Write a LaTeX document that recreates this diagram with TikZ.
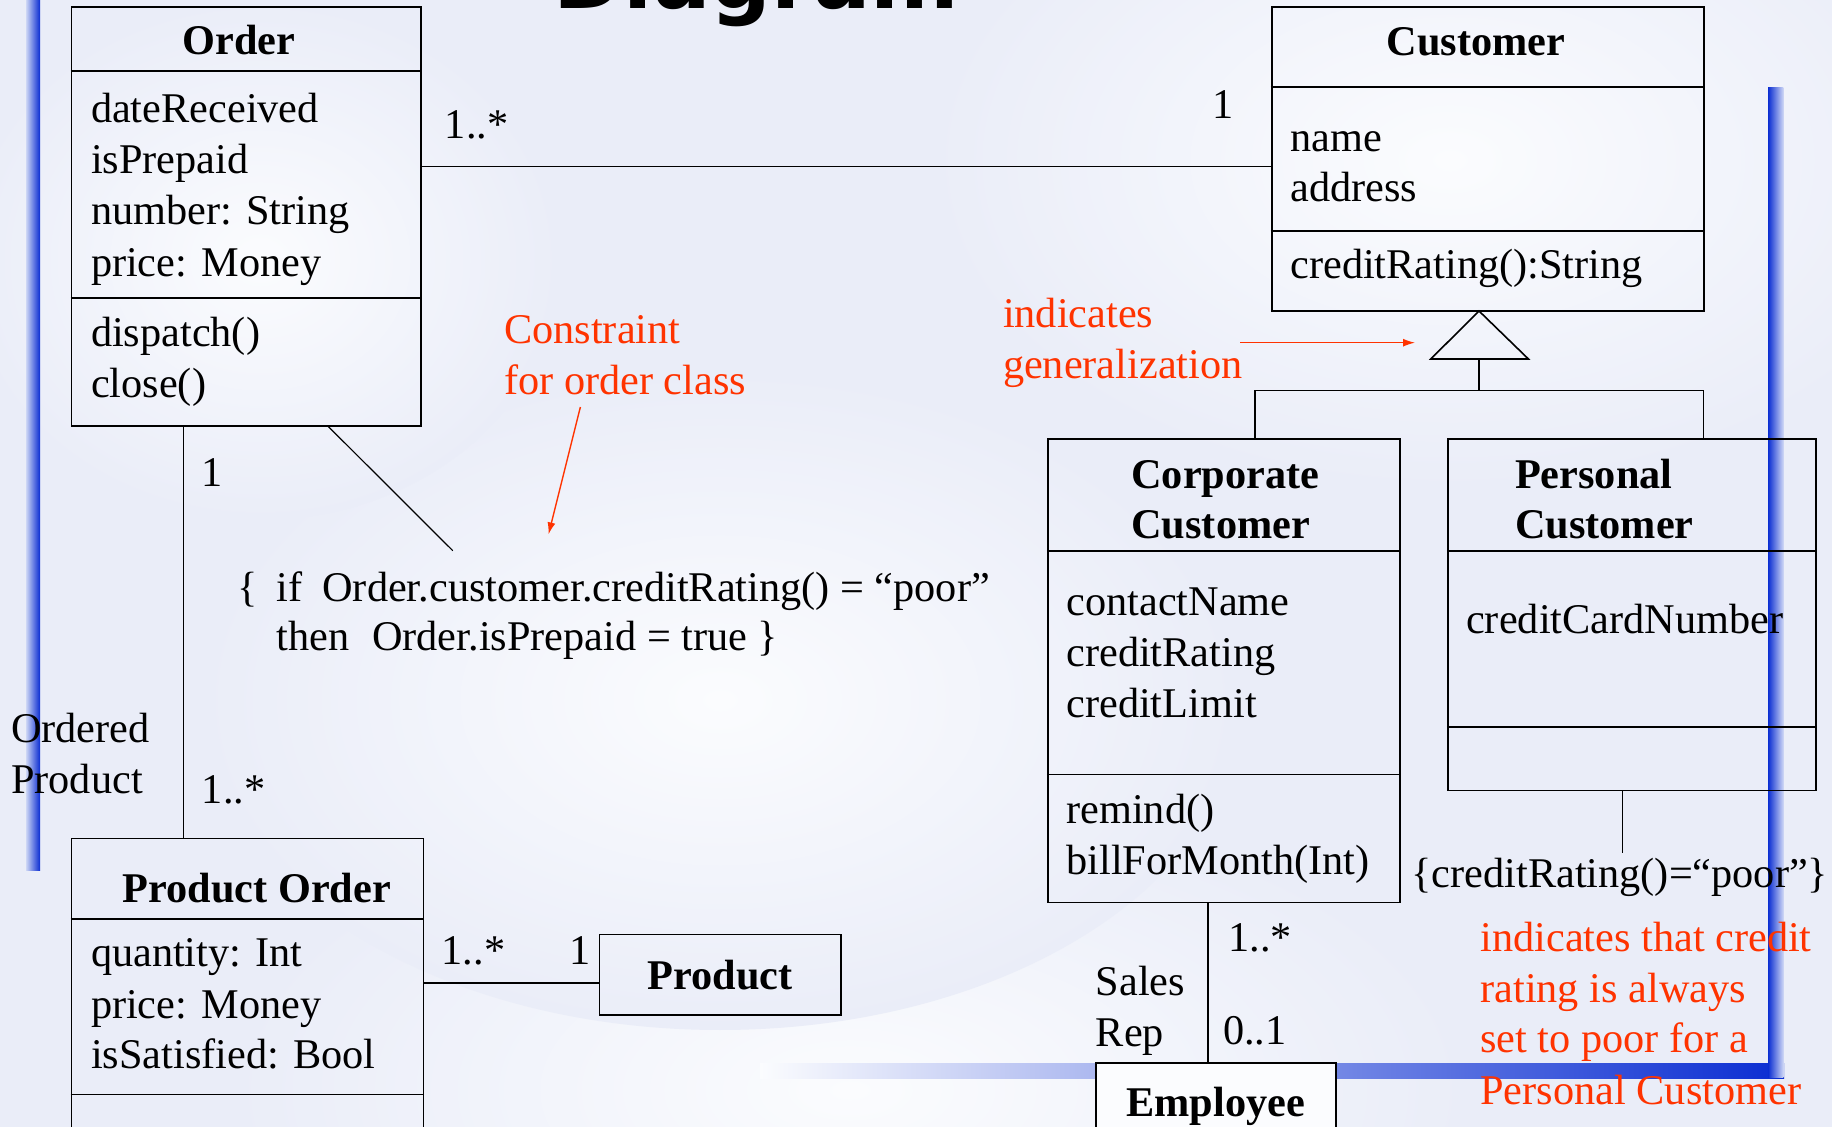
\documentclass[tikz,border=0pt]{standalone}
\usepackage{fontspec}
\setmainfont{Liberation Serif}
\newfontfamily\titlefont{DejaVu Sans}
\usetikzlibrary{fit,arrows.meta}

\definecolor{slidebg}{RGB}{234,237,248}
\definecolor{slidehi}{RGB}{251,252,254}
\definecolor{barblue}{RGB}{10,45,210}
\definecolor{barpale}{RGB}{205,214,245}
\definecolor{notered}{RGB}{255,51,0}

\begin{document}
\begin{tikzpicture}[x=0.5pt,y=-0.5pt,
  umlbox/.style={draw, line width=0.9pt, inner sep=0pt},
  txt/.style={anchor=base west, inner sep=0pt, font=\fontsize{21.15}{25}\selectfont},
  hd/.style={txt, font=\fontsize{21.15}{25}\selectfont\bfseries},
  note/.style={txt, text=notered},
  divider/.style={line width=0.9pt},
  assoc/.style={line width=0.8pt},
  thinline/.style={line width=0.6pt},
  notearrow/.style={draw=notered, line width=0.7pt, -{Latex[length=6pt,width=4pt]}},
]
\useasboundingbox (0,0) rectangle (1832,1127);
\clip (0,0) rectangle (1832,1127);

% slide background with soft light patches
\fill[slidebg] (0,0) rectangle (1832,1127);
\shade[inner color=slidehi, outer color=slidebg] (850,1090) ellipse [x radius=620, y radius=300];
\shade[inner color=slidehi, outer color=slidebg] (1450,160) ellipse [x radius=520, y radius=330];
\shade[inner color=slidehi, outer color=slidebg] (720,700) ellipse [x radius=520, y radius=330];
\shade[inner color=slidehi, outer color=slidebg] (260,260) ellipse [x radius=300, y radius=260];

% slide decoration bars (behind the diagram)
\shade[left color=slidehi, right color=barblue] (760,1063.3) rectangle (1784,1078.7);
\shade[left color=barblue, right color=barpale] (1768,87.3) rectangle (1783.3,1077);
\shade[left color=barpale, right color=barblue] (26,0) rectangle (40,870.7);

% slide title, cut by the top edge
\node[anchor=base west, inner sep=0pt, font=\titlefont\bfseries\fontsize{42.5}{46}\selectfont] (title) at (553,8.3) {Diagram};

% ---------- Order ----------
\node[umlbox, fit={(71.5,6.7) (421,425.7)}] (order) {};
\draw[divider] (order.west |- 0,70.7) -- (order.east |- 0,70.7);
\draw[divider] (order.west |- 0,297.7) -- (order.east |- 0,297.7);
\node[hd, anchor=base] (orderT) at (239,55) {Order};
\node[txt] (oa1) at (90.6,122.7) {dateReceived};
\node[txt] (oa2) at (90.6,173.3) {isPrepaid};
\node[txt] (oa3) at (90.6,225) {number: String};
\node[txt] (oa4) at (90.6,276.7) {price: Money};
\node[txt] (oo1) at (90.6,346.7) {dispatch()};
\node[txt] (oo2) at (90.6,397.3) {close()};

% ---------- Customer ----------
\node[umlbox, fit={(1271.6,6.7) (1704,311)}] (customer) {};
\draw[divider] (customer.west |- 0,86.7) -- (customer.east |- 0,86.7);
\draw[divider] (customer.west |- 0,230.7) -- (customer.east |- 0,230.7);
\node[hd, anchor=base] (customerT) at (1476,56) {Customer};
\node[txt] (ca1) at (1290,151.7) {name};
\node[txt] (ca2) at (1290,201.7) {address};
\node[txt] (co1) at (1290,278.3) {creditRating():String};

% Order -- Customer association
\coordinate (ocy) at (0,166.7);
\draw[assoc] (order.east |- ocy) -- (customer.west |- ocy);
\node[txt] (m1) at (444.5,138.3) {1..*};
\node[txt] (m2) at (1212,119) {1};

% ---------- Corporate Customer ----------
\node[umlbox, fit={(1047.7,439) (1400,902.6)}] (corp) {};
\draw[divider] (corp.west |- 0,551) -- (corp.east |- 0,551);
\draw[divider] (corp.west |- 0,774.6) -- (corp.east |- 0,774.6);
\node[hd] (corpT1) at (1131,489) {Corporate};
\node[hd] (corpT2) at (1131,539) {Customer};
\node[txt] (cc1) at (1066,616) {contactName};
\node[txt] (cc2) at (1066,667) {creditRating};
\node[txt] (cc3) at (1066,718) {creditLimit};
\node[txt] (cc4) at (1066,824) {remind()};
\node[txt] (cc5) at (1066,875) {billForMonth(Int)};

% ---------- Personal Customer ----------
\node[umlbox, fit={(1447.7,439) (1816,790.5)}] (personal) {};
\draw[divider] (personal.west |- 0,551) -- (personal.east |- 0,551);
\draw[divider] (personal.west |- 0,726.8) -- (personal.east |- 0,726.8);
\node[hd] (persT1) at (1514.6,489) {Personal};
\node[hd] (persT2) at (1514.6,539) {Customer};
\node[txt] (pc1) at (1465.8,634) {creditCardNumber};

% generalization
\coordinate (apex) at (1479,311);
\coordinate (tribase) at (1479,359);
\coordinate (gen) at (1479,390.7);
\coordinate (jl) at (1255,390.7);
\coordinate (jr) at (1703.5,390.7);
\draw[line width=0.8pt] (apex) -- (1430.8,359) -- (1528.4,359) -- cycle;
\draw[thinline] (tribase) -- (gen);
\draw[assoc] (jl |- corp.north) -- (jl) -- (jr) -- (jr |- personal.north);

\node[note] (gen1) at (1002.6,327.7) {indicates};
\node[note] (gen2) at (1002.6,378.3) {generalization};
\coordinate (genfrom) at (1240,342.7);
\coordinate (gento) at (1415,342.7);
\draw[notearrow] (genfrom) -- (gento);

% constraint on Personal Customer
\coordinate (crnote) at (1622.8,853.4);
\draw[thinline] (personal.south -| crnote) -- (crnote);
\node[txt] (crtext) at (1411,887.7) {\{creditRating()=“poor”\}};
\node[note] (pn1) at (1480,951.7) {indicates that credit};
\node[note] (pn2) at (1480,1002.7) {rating is always};
\node[note] (pn3) at (1480,1052.8) {set to poor for a};
\node[note] (pn4) at (1480,1104.7) {Personal Customer};

% ---------- Employee ----------
\node[umlbox, fill=slidehi, fit={(1096,1063) (1336,1140)}] (employee) {};
\node[hd] (empT) at (1126,1116.5) {Employee};
\coordinate (srx) at (1208,0);
\draw[thinline] (corp.south -| srx) -- (employee.north -| srx);
\node[txt] (sr1) at (1228,951.7) {1..*};
\node[txt] (sr2) at (1222.8,1044.4) {0..1};
\node[txt] (sr3) at (1095.5,995.7) {Sales};
\node[txt] (sr4) at (1095.5,1046.7) {Rep};

% ---------- Product Order ----------
\node[umlbox, fit={(71.4,838.6) (423.5,1140)}] (prodorder) {};
\draw[divider] (prodorder.west |- 0,918.8) -- (prodorder.east |- 0,918.8);
\draw[divider] (prodorder.west |- 0,1094.5) -- (prodorder.east |- 0,1094.5);
\node[hd] (poT) at (122.4,903) {Product Order};
\node[txt] (pa1) at (90.6,966.5) {quantity: Int};
\node[txt] (pa2) at (90.6,1018) {price: Money};
\node[txt] (pa3) at (90.6,1068.5) {isSatisfied: Bool};

% Order -- Product Order
\coordinate (opx) at (183.7,0);
\draw[thinline] (order.south -| opx) -- (prodorder.north -| opx);
\node[txt] (op1) at (201.5,487) {1};
\node[txt] (op2) at (201.5,803.3) {1..*};
\node[txt] (op3) at (10.8,743) {Ordered};
\node[txt] (op4) at (10.8,794) {Product};

% ---------- Product ----------
\node[umlbox, fit={(599.5,934.5) (840.6,1014.7)}] (product) {};
\node[hd] (prodT) at (647.3,989.7) {Product};
\coordinate (ppy) at (0,982.8);
\draw[assoc] (prodorder.east |- ppy) -- (product.west |- ppy);
\node[txt] (pp1) at (441.3,964.7) {1..*};
\node[txt] (pp2) at (569.5,964.7) {1};

% constraint on Order
\coordinate (cnote) at (452.8,550.7);
\draw[thinline] (order.south -| 328.4,0) -- (cnote);
\node[txt] (k1) at (237.2,601.7) {\{};
\node[txt] (k2) at (276,601.7) {if};
\node[txt] (k3) at (322,601.7) {Order.customer.creditRating() = “poor”};
\node[txt] (k4) at (276,650.3) {then};
\node[txt] (k5) at (371.8,650.3) {Order.isPrepaid = true \}};
\node[note] (cn1) at (503.8,343.3) {Constraint};
\node[note] (cn2) at (503.8,394.3) {for order class};
\coordinate (cnfrom) at (580.4,407);
\coordinate (cnto) at (548.5,534.4);
\draw[notearrow] (cnfrom) -- (cnto);
\end{tikzpicture}
\end{document}
